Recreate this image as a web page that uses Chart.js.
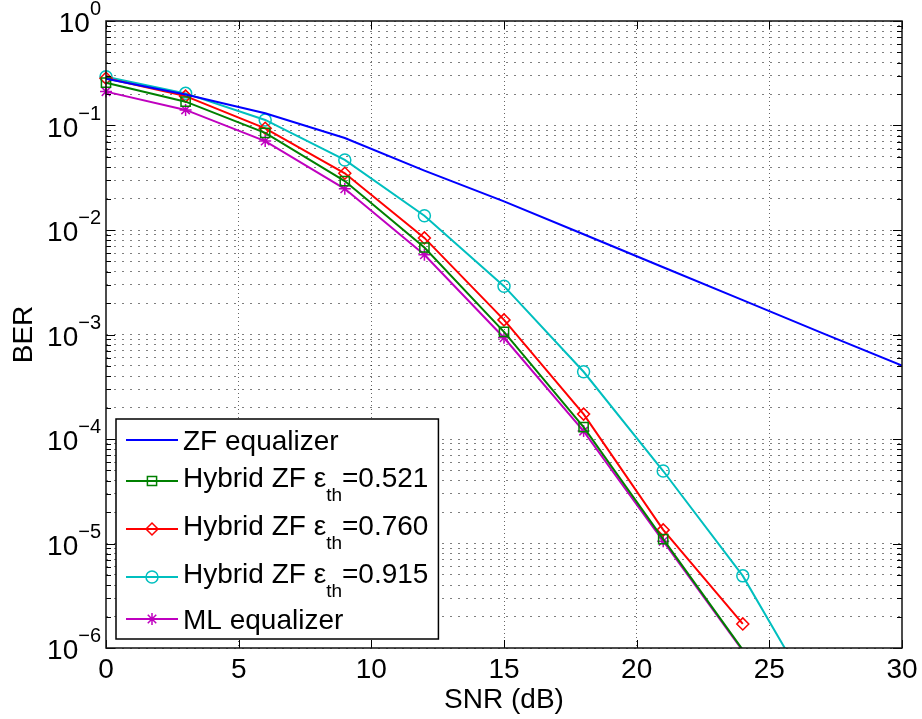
<!DOCTYPE html>
<html>
<head>
<meta charset="utf-8">
<title>BER vs SNR</title>
<script src="https://cdn.jsdelivr.net/npm/chart.js"></script>
<style>
  html, body { margin: 0; padding: 0; background: #fff; }
  canvas { display: block; }
</style>
</head>
<body>
<canvas id="berChart" width="922" height="719"></canvas>
<script>
// SNR points (dB) and BER curves
const snr = [0, 3, 6, 9, 12, 15, 18, 21, 24, 27, 30];
const berZF = [0.28, 0.198, 0.131, 0.076, 0.037, 0.0188, 0.0091, 0.0044, 0.00213, 0.00103, 0.000503];
const berHybrid521 = [0.257, 0.169, 0.085, 0.0294, 0.0068, 0.00106, 1.30e-4, 1.10e-5, 9.6e-7];
const berHybrid760 = [0.283, 0.191, 0.094, 0.0349, 0.0084, 0.00138, 1.73e-4, 1.35e-5, 1.7e-6];
const berHybrid915 = [0.293, 0.203, 0.113, 0.0468, 0.0137, 0.0029, 4.4e-4, 4.94e-5, 4.9e-6, 2.4e-7];
const berML = [0.211, 0.141, 0.071, 0.0248, 0.0058, 0.00093, 1.19e-4, 1.05e-5, 9.4e-7];

const xTicks = [0, 5, 10, 15, 20, 25, 30];
const yDecades = [-6, -5, -4, -3, -2, -1, 0];

const FONT = '"Liberation Sans", Arial, sans-serif';
const Y_MIN = 1e-6;

// 1..9 x 10^k for each decade, for the dotted log grid and minor ticks
const yGrid = [];
yDecades.forEach(k => {
  for (let m = 1; m <= 9; m++) {
    if (k === 0 && m > 1) break;
    yGrid.push(m * Math.pow(10, k));
  }
});

function toPoints(values) {
  return values.map((v, i) => ({ x: snr[i], y: v }));
}

function series(parts, values, color, marker, radius) {
  return {
    label: parts.join(''),
    legendParts: parts,
    data: toPoints(values),
    borderColor: color,
    backgroundColor: 'rgba(0,0,0,0)',
    borderWidth: 2,
    tension: 0,
    pointStyle: marker || 'circle',
    markerRadius: marker ? radius : 0,
    // markers for points under the axis are not drawn at all
    pointRadius: ctx => {
      if (!marker) return 0;
      if (ctx.raw && ctx.raw.y < Y_MIN) return 0;
      return radius;
    },
    pointHoverRadius: 0,
    pointBorderColor: color,
    pointBorderWidth: 1.5,
    pointBackgroundColor: 'rgba(0,0,0,0)',
    clip: { left: 10, top: 0, right: 0, bottom: 0 }
  };
}

const datasets = [
  series(['ZF equalizer'], berZF, '#0000ff', null, 0),
  series(['Hybrid ZF \u03b5', 'th', '=0.521'], berHybrid521, '#008000', 'rect', 6.5),
  series(['Hybrid ZF \u03b5', 'th', '=0.760'], berHybrid760, '#ff0000', 'rectRot', 6),
  series(['Hybrid ZF \u03b5', 'th', '=0.915'], berHybrid915, '#00bfbf', 'circle', 6),
  series(['ML equalizer'], berML, '#bf00bf', 'star', 6)
];

function seg(ctx, x1, y1, x2, y2) {
  ctx.beginPath();
  ctx.moveTo(x1, y1);
  ctx.lineTo(x2, y2);
  ctx.stroke();
}

// box, inward ticks, tick labels, axis titles and the legend
const matlabAxes = {
  id: 'matlabAxes',
  afterDraw(chart) {
    const { ctx, chartArea: a, scales: { x, y } } = chart;
    ctx.save();

    ctx.strokeStyle = '#000';
    ctx.lineWidth = 1;
    xTicks.forEach(v => {
      const px = Math.round(x.getPixelForValue(v)) + 0.5;
      seg(ctx, px, a.bottom, px, a.bottom - 8);
      seg(ctx, px, a.top, px, a.top + 8);
    });
    yGrid.forEach(v => {
      const py = Math.round(y.getPixelForValue(v)) + 0.5;
      const major = Math.abs(Math.log10(v) - Math.round(Math.log10(v))) < 1e-9;
      const len = major ? 9 : 5;
      seg(ctx, a.left, py, a.left + len, py);
      seg(ctx, a.right, py, a.right - len, py);
    });

    ctx.lineWidth = 1.5;
    ctx.strokeStyle = '#111';
    ctx.strokeRect(a.left, a.top, a.right - a.left, a.bottom - a.top);

    ctx.fillStyle = '#000';
    ctx.font = '28px ' + FONT;
    ctx.textAlign = 'center';
    ctx.textBaseline = 'middle';
    xTicks.forEach(v => ctx.fillText(String(v), x.getPixelForValue(v), 670));

    yDecades.forEach(k => {
      const py = y.getPixelForValue(Math.pow(10, k));
      const exp = k === 0 ? '0' : '\u2212' + Math.abs(k);
      ctx.textAlign = 'right';
      ctx.textBaseline = 'alphabetic';
      ctx.font = '20px ' + FONT;
      const ew = ctx.measureText(exp).width;
      ctx.fillText(exp, 101, py - 6);
      ctx.font = '28px ' + FONT;
      ctx.fillText('10', 101 - ew, py + 11);
    });

    ctx.font = '28px ' + FONT;
    ctx.textAlign = 'center';
    ctx.textBaseline = 'middle';
    ctx.fillText('SNR (dB)', (a.left + a.right) / 2, 700);
    ctx.save();
    ctx.translate(24, (a.top + a.bottom) / 2);
    ctx.rotate(-Math.PI / 2);
    ctx.fillText('BER', 0, 0);
    ctx.restore();

    // legend
    const rows = [440, 481, 529, 577, 619];
    const left = 116, top = 419, bottom = 639, textX = 183;
    const partFont = i => (i === 1 ? '19px ' : '28px ') + FONT;
    const widthOf = parts => parts.reduce((w, p, i) => {
      ctx.font = partFont(i);
      return w + ctx.measureText(p).width;
    }, 0);
    let maxW = 0;
    chart.data.datasets.forEach(ds => { maxW = Math.max(maxW, widthOf(ds.legendParts)); });
    const right = textX + maxW + 10;

    ctx.fillStyle = '#fff';
    ctx.fillRect(left, top, right - left, bottom - top);
    ctx.lineWidth = 1.5;
    ctx.strokeStyle = '#000';
    ctx.strokeRect(left, top, right - left, bottom - top);

    chart.data.datasets.forEach((ds, i) => {
      const ly = rows[i];
      ctx.strokeStyle = ds.borderColor;
      ctx.lineWidth = 2;
      seg(ctx, 126, ly, 178, ly);
      if (ds.markerRadius > 0) {
        ctx.fillStyle = 'rgba(0,0,0,0)';
        ctx.lineWidth = 1.5;
        Chart.helpers.drawPoint(ctx, {
          pointStyle: ds.pointStyle, rotation: 0, radius: ds.markerRadius, borderWidth: 1.5
        }, 152, ly);
      }
      const hasSub = ds.legendParts.length > 1;
      const base = ly + (hasSub ? 6 : 10);
      ctx.fillStyle = '#000';
      ctx.textAlign = 'left';
      ctx.textBaseline = 'alphabetic';
      let tx = textX;
      ds.legendParts.forEach((p, j) => {
        ctx.font = partFont(j);
        ctx.fillText(p, tx, j === 1 ? base + 14 : base);
        tx += ctx.measureText(p).width;
      });
    });

    ctx.restore();
  }
};

new Chart(document.getElementById('berChart').getContext('2d'), {
  type: 'line',
  data: { datasets: datasets },
  options: {
    responsive: false,
    animation: false,
    events: [],
    layout: { padding: { left: 106, right: 20, top: 21, bottom: 71 } },
    plugins: { legend: { display: false }, tooltip: { enabled: false } },
    scales: {
      x: {
        type: 'linear',
        min: 0,
        max: 30,
        ticks: { display: false, stepSize: 5 },
        grid: {
          drawTicks: false,
          lineWidth: 1,
          color: c => (c.tick && (c.tick.value === 0 || c.tick.value === 30)) ? 'rgba(0,0,0,0)' : 'rgba(0,0,0,0.6)'
        },
        border: { display: false, dash: [1, 3] }
      },
      y: {
        type: 'logarithmic',
        min: Y_MIN,
        max: 1,
        ticks: { display: false },
        afterBuildTicks: scale => { scale.ticks = yGrid.map(v => ({ value: v })); },
        grid: { drawTicks: false, lineWidth: 1, color: 'rgba(0,0,0,0.5)' },
        border: { display: false, dash: [2, 6] }
      }
    }
  },
  plugins: [matlabAxes]
});
</script>
</body>
</html>
